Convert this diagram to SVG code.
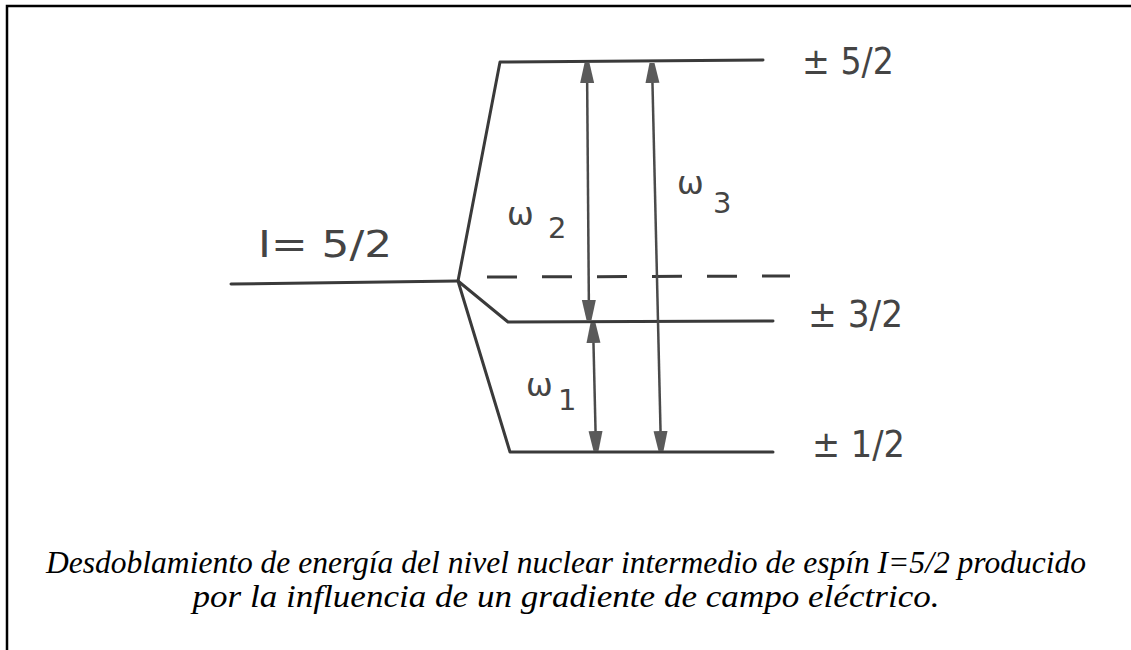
<svg xmlns="http://www.w3.org/2000/svg" width="1131" height="650" viewBox="0 0 1131 650">
<style>
.lvl{fill:none;stroke:#3a3a3a;stroke-width:3;stroke-linejoin:round;stroke-linecap:round}
.dash{fill:none;stroke:#3a3a3a;stroke-width:3;stroke-dasharray:30 25}
.arr{fill:none;stroke:#4a4a4a;stroke-width:2.5}
.lbl{font-family:"DejaVu Sans","Liberation Sans",sans-serif;fill:#444;font-size:37px}
.om{font-family:"DejaVu Sans","Liberation Sans",sans-serif;fill:#444;font-size:32px}
.sub{font-family:"DejaVu Sans","Liberation Sans",sans-serif;fill:#444;font-size:29px}
.cap{font-family:"Liberation Serif",serif;font-style:italic;font-size:31px;fill:#000}
</style>
<defs>
<marker id="ah" viewBox="0 0 20 16" refX="20" refY="8" markerWidth="20" markerHeight="16" markerUnits="userSpaceOnUse" orient="auto-start-reverse">
<path d="M0,1 L20,5.5 L20,10.5 L0,15 Z" fill="#5a5a5a"/>
</marker>
</defs>
<rect width="1131" height="650" fill="#fff"/>
<path d="M7,650 V6 H1131" fill="none" stroke="#000" stroke-width="2.5"/>
<g id="levels">
<path class="lvl" d="M231,284 L458,281"/>
<path class="lvl" d="M458,281 L500,62 L763,60"/>
<path class="lvl" d="M458,281 L508,322 L773,321"/>
<path class="lvl" d="M458,281 L510,452 L773,452"/>
<path class="dash" d="M487,277 L790,276"/>
</g>
<g id="connectors">
<path class="arr" d="M587,63 L589,320" marker-start="url(#ah)" marker-end="url(#ah)"/>
<path class="arr" d="M593,323 L596,451" marker-start="url(#ah)" marker-end="url(#ah)"/>
<path class="arr" d="M652,63 L661,451" marker-start="url(#ah)" marker-end="url(#ah)"/>
</g>
<g id="labels">
<text class="lbl" x="258" y="257" textLength="134" lengthAdjust="spacingAndGlyphs">I= 5/2</text>
<text class="om" x="507" y="225">ω</text><text class="sub" x="548" y="238">2</text>
<text class="om" x="677" y="194">ω</text><text class="sub" x="713" y="213">3</text>
<text class="om" x="526" y="396">ω</text><text class="sub" x="558" y="410">1</text>
<text class="lbl" x="802" y="74" textLength="92" lengthAdjust="spacingAndGlyphs">± 5/2</text>
<text class="lbl" x="808" y="327" textLength="95" lengthAdjust="spacingAndGlyphs">± 3/2</text>
<text class="lbl" x="812" y="457" textLength="93" lengthAdjust="spacingAndGlyphs">± 1/2</text>
</g>
<g id="caption">
<text class="cap" x="566" y="573" text-anchor="middle" textLength="1040" lengthAdjust="spacingAndGlyphs">Desdoblamiento de energía del nivel nuclear intermedio de espín I=5/2 producido</text>
<text class="cap" x="566" y="607" text-anchor="middle" textLength="747" lengthAdjust="spacingAndGlyphs">por la influencia de un gradiente de campo eléctrico.</text>
</g>
</svg>
